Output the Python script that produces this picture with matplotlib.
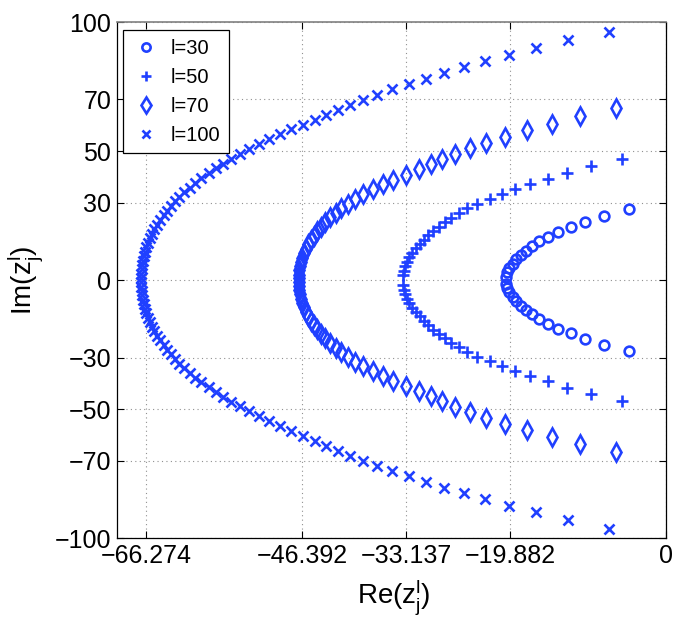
import matplotlib
matplotlib.use("Agg")
import matplotlib.pyplot as plt
import numpy as np

# ---- data (upper half-plane zeros; the lower half is their complex conjugate) ----
l30_re = [-4.75, -7.9, -10.35, -12.13, -13.75, -15.02, -16.15, -17.14, -17.9, -18.55,
          -19.1, -19.58, -19.97, -20.23, -20.38]
l30_im = [27.6, 24.9, 22.6, 20.6, 18.7, 16.8, 15.0, 13.2, 11.5, 9.8,
          8.1, 6.4, 4.7, 3.0, 1.3]

l50_re = [-5.7, -9.6, -12.7, -15.1, -17.4, -19.3, -20.95, -22.45, -24.07, -25.33,
          -26.45, -27.4, -28.23, -28.97, -29.65, -30.3, -30.88, -31.4, -31.87, -32.35,
          -32.73, -33.05, -33.28, -33.45, -33.55]
l50_im = [46.8, 44.2, 41.6, 39.2, 37.2, 35.2, 33.3, 31.4, 29.6, 27.8,
          26.0, 24.2, 22.5, 20.8, 19.1, 17.4, 15.7, 14.0, 12.3, 10.6,
          8.9, 7.2, 5.5, 3.7, 1.9]

l70_re = [-6.4, -11.0, -14.6, -17.7, -20.5, -23.0, -25.0, -26.95, -28.59, -30.02,
          -31.44, -33.1, -34.75, -36.05, -37.31, -38.63, -39.6, -40.51, -41.37, -42.11,
          -42.8, -43.42, -43.96, -44.46, -44.89, -45.29, -45.62, -45.9, -46.19, -46.4,
          -46.54, -46.66, -46.74, -46.79, -46.82]
l70_im = [66.6, 63.5, 60.7, 58.0, 55.6, 53.3, 51.1, 49.0, 46.9, 44.9,
          42.9, 40.9, 39.0, 37.1, 35.2, 33.3, 31.5, 29.7, 27.9, 26.1,
          24.3, 22.5, 20.7, 19.0, 17.3, 15.6, 13.9, 12.2, 10.5, 8.8,
          7.1, 5.4, 3.8, 2.2, 0.7]

l100_re = [-7.3, -12.5, -16.6, -20.0, -23.1, -25.8, -28.3, -30.6, -32.8, -34.9,
           -36.8, -38.6, -40.3, -41.8, -43.3, -44.8, -46.3, -47.8, -49.2, -50.6,
           -51.9, -53.1, -54.3, -55.5, -56.5, -57.4, -58.3, -59.2, -60.0, -60.7,
           -61.4, -62.0, -62.55, -63.05, -63.55, -64.0, -64.45, -64.85, -65.2, -65.5,
           -65.8, -66.05, -66.27, -66.45, -66.58, -66.68, -66.76, -66.82, -66.86, -66.88]
l100_im = [96.3, 92.9, 89.9, 87.3, 84.8, 82.5, 80.3, 78.1, 76.0, 73.9,
           71.9, 69.9, 67.9, 66.0, 64.1, 62.2, 60.3, 58.4, 56.5, 54.6,
           52.7, 50.8, 48.9, 47.0, 45.15, 43.3, 41.45, 39.6, 37.75, 35.9,
           34.1, 32.3, 30.5, 28.7, 26.9, 25.1, 23.3, 21.5, 19.75, 18.0,
           16.25, 14.5, 12.75, 11.0, 9.3, 7.6, 5.9, 4.2, 2.5, 0.8]

series_labels = ['l=30', 'l=50', 'l=70', 'l=100']
x_ticks = [-66.274, -46.392, -33.137, -19.882, 0]
x_ticklabels = ['\u221266.274', '\u221246.392', '\u221233.137', '\u221219.882', '0']
y_ticks = [-100, -70, -50, -30, 0, 30, 50, 70, 100]
y_ticklabels = ['\u2212100', '\u221270', '\u221250', '\u221230', '0', '30', '50', '70', '100']

plt.rcParams['font.family'] = ['Liberation Sans', 'DejaVu Sans']
plt.rcParams['mathtext.fontset'] = 'custom'
plt.rcParams['mathtext.rm'] = 'Liberation Sans'
plt.rcParams['mathtext.it'] = 'Liberation Sans'

fig = plt.figure(figsize=(6.78, 6.33), dpi=100)
ax = fig.add_axes([0.1721, 0.1494, 0.8106, 0.8158])

blue = '#2040ff'

def full(re, im):
    re = np.asarray(re)
    im = np.asarray(im)
    return np.concatenate([re, re[::-1]]), np.concatenate([im, -im[::-1]])

styles = [
    dict(marker='o', ms=7, mew=1.9, mfc='none'),
    dict(marker='+', ms=9, mew=1.9),
    dict(marker='d', ms=9, mew=1.9, mfc='none'),
    dict(marker='x', ms=7, mew=1.9),
]
data = [(l30_re, l30_im), (l50_re, l50_im), (l70_re, l70_im), (l100_re, l100_im)]
for (re, im), st, lab in zip(data, styles, series_labels):
    xs, ys = full(re, im)
    ax.plot(xs, ys, linestyle='none', color=blue, mec=blue, label=lab, **st)

ax.set_xlim(-70, 0)
ax.set_ylim(-100, 100)
ax.set_xticks(x_ticks)
ax.set_xticklabels(x_ticklabels, fontsize=18)
ax.set_yticks(y_ticks)
ax.set_yticklabels(y_ticklabels, fontsize=18)

ax.tick_params(direction='in', top=True, right=True, length=5, width=0.8,
               pad=4, colors='black')
ax.grid(True, linestyle=(0, (1, 3)), color='#909090', linewidth=0.8)
for s in ['left', 'bottom', 'right']:
    ax.spines[s].set_color('black')
    ax.spines[s].set_linewidth(0.9)
ax.spines['top'].set_color('#808080')
ax.spines['top'].set_linewidth(1.2)

ax.set_xlabel(r'Re(z$_{j}^{l}$)', fontsize=20)
ax.set_ylabel(r'Im(z$_{j}^{l}$)', fontsize=20)
ax.xaxis.set_label_coords(0.505, -0.075)
ax.yaxis.set_label_coords(-0.13, 0.5)

leg = ax.legend(loc='upper left', bbox_to_anchor=(0.0115, 0.984), borderaxespad=0,
                fancybox=False, framealpha=1, edgecolor='black', fontsize=14.5,
                markerscale=0.85, handlelength=1.4, handletextpad=0.55,
                borderpad=0.42, labelspacing=0.5)
leg.get_frame().set_linewidth(0.9)

fig.savefig('out.png', dpi=100)
